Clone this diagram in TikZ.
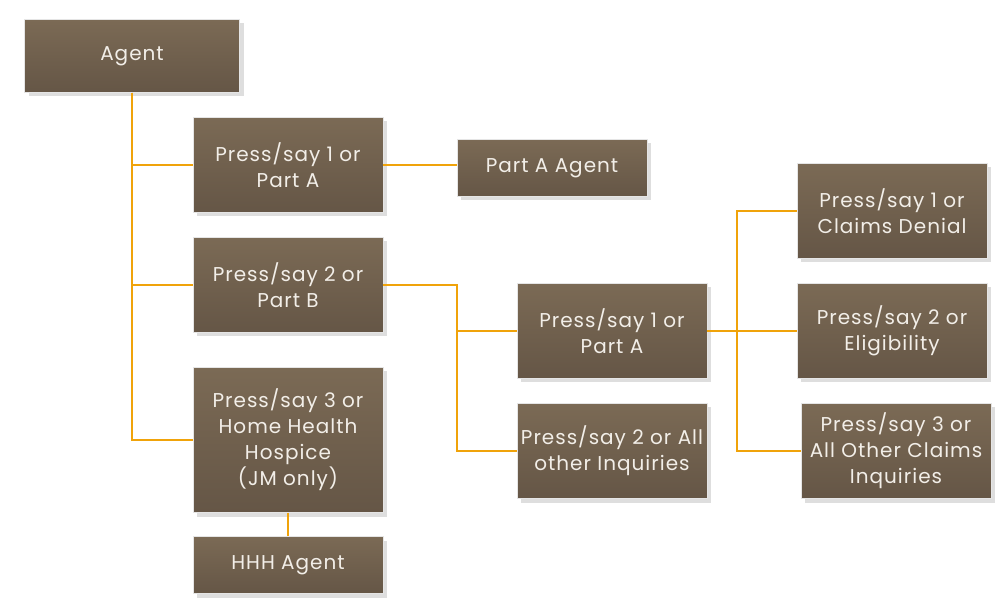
\documentclass[tikz,border=0pt]{standalone}
\usepackage{fontspec}
\setmainfont{Poppins}[LetterSpace=5]
\usetikzlibrary{shadows,positioning}

\definecolor{boxtop}{HTML}{7B6A55}
\definecolor{boxbot}{HTML}{655646}
\definecolor{wire}{HTML}{F0A30A}
\definecolor{ink}{HTML}{F2EEE8}

\begin{document}
\begin{tikzpicture}[x=1pt,y=-1pt,
  menu/.style={rectangle, top color=boxtop, bottom color=boxbot, draw=white!80!gray, line width=0.4pt,
    text=ink, align=center, font=\fontsize{20}{26}\selectfont, inner sep=0pt,
    minimum width=190pt, minimum height=95pt,
    drop shadow={shadow xshift=4pt, shadow yshift=-4pt, fill=black!13, opacity=1}},
  short/.style={menu, minimum height=57pt},
  wire/.style={draw=wire, line width=1.8pt}]
\useasboundingbox (0,0) rectangle (997,612);

% top level
\node[short, minimum width=215pt, minimum height=73pt] (agent) at (132,56) {Agent};
\node[menu] (pa) at (288,165) {Press/say 1 or\\Part A};
\node[menu] (pb) at (288,285) {Press/say 2 or\\Part B};
\node[menu, minimum height=145pt] (hh) at (288,440) {Press/say 3 or\\Home Health\\Hospice\\(JM only)};
\node[short] (hhh) at (288,565) {HHH Agent};
\node[short] (paagent) at (552,168) {Part A Agent};

% part B menu
\node[menu] (bpa) at (612,331) {Press/say 1 or\\Part A};
\node[menu] (bother) at (612,451) {Press/say 2 or All\\other Inquiries};

% part A claims menu
\node[menu] (deny) at (892,211) {Press/say 1 or\\Claims Denial};
\node[menu] (elig) at (892,331) {Press/say 2 or\\Eligibility};
\node[menu] (claims) at (896,451) {Press/say 3 or\\All Other Claims\\Inquiries};

% wires
\draw[wire] (agent.south) |- (pa.west);
\draw[wire] (agent.south) |- (pb.west);
\draw[wire] (agent.south) |- (hh.west);
\draw[wire] (pa.east) -- (paagent.west |- pa.east);
\draw[wire] (hh.south) -- (hhh.north);
\draw[wire] (pb.east) -| (457,451) -- (bother.west);
\draw[wire] (457,331) -- (bpa.west);
\draw[wire] (bpa.east) -- (elig.west);
\draw[wire] (deny.west) -| (737,451) -- (claims.west);
\end{tikzpicture}
\end{document}
